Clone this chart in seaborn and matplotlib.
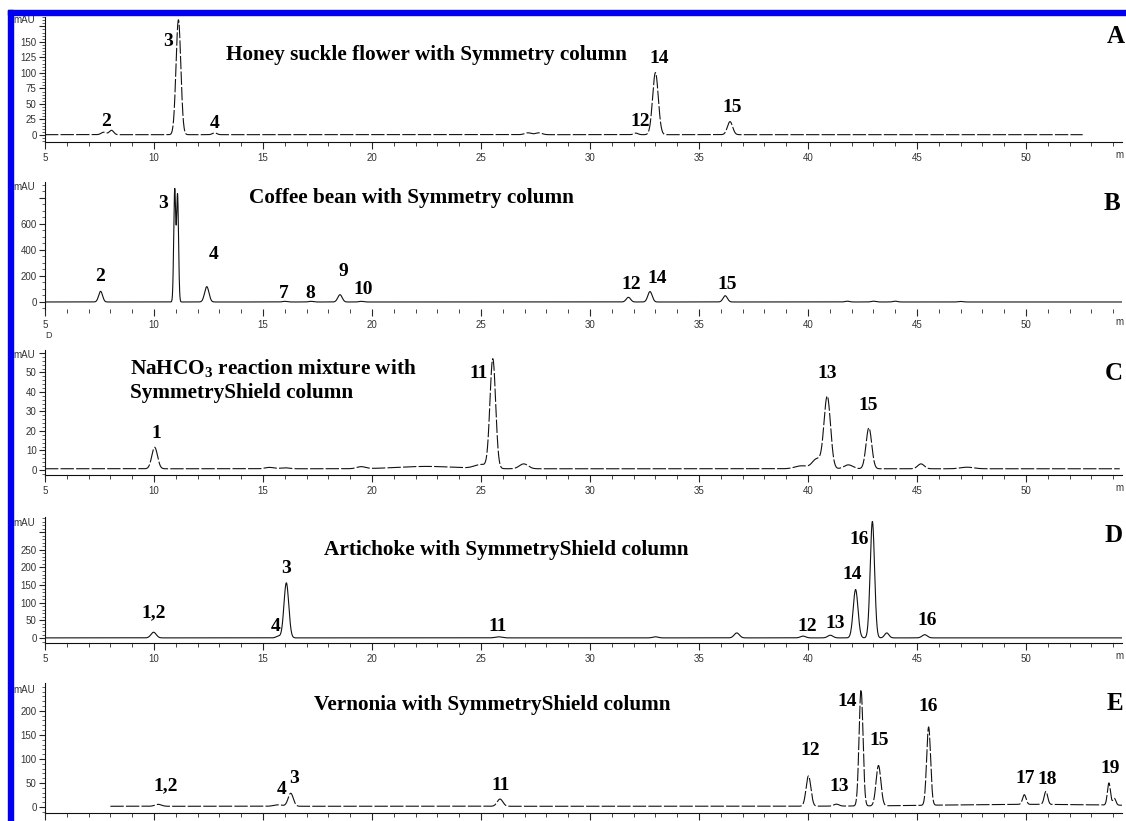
import numpy as np
import pandas as pd
import matplotlib
matplotlib.use("Agg")
import matplotlib.pyplot as plt
import seaborn as sns
from matplotlib.ticker import FixedLocator, MultipleLocator
from matplotlib.patches import Rectangle

# ---------------- peak tables (retention time min, height mAU, sigma min) ----------------
a_rt = [7.7, 8.05, 11.12, 12.78, 27.15, 27.65, 32.1, 33.0, 36.42]
a_h = [4, 7, 185, 3, 3, 3, 2.5, 100, 21]
a_w = [0.12, 0.1, 0.11, 0.1, 0.15, 0.15, 0.1, 0.13, 0.12]
a_base = 0.5

b_rt = [7.55, 10.95, 11.08, 12.42, 16.0, 17.2, 18.53, 19.5, 31.76, 32.75, 36.2, 41.8, 43.0, 44.0, 47.0]
b_h = [82, 860, 820, 118, 5, 5, 56, 5, 36, 80, 48, 6, 6, 6, 4]
b_w = [0.09, 0.045, 0.045, 0.1, 0.1, 0.1, 0.1, 0.1, 0.1, 0.1, 0.1, 0.1, 0.1, 0.1, 0.1]
b_base = 0.0

c_rt = [10.03, 15.3, 16.0, 19.5, 22.5, 25.0, 25.54, 26.96, 39.7, 40.4, 40.88, 41.85, 42.79, 45.18, 47.3]
c_h = [11, 0.7, 0.5, 1.0, 1.2, 2.0, 56, 2.5, 1.5, 5, 37, 2, 21, 2.5, 0.8]
c_w = [0.13, 0.2, 0.2, 0.2, 1.3, 0.3, 0.13, 0.2, 0.3, 0.2, 0.15, 0.2, 0.13, 0.15, 0.3]
c_base = 0.6

d_rt = [9.98, 15.7, 16.07, 25.8, 33.0, 36.73, 39.77, 41.02, 42.18, 42.95, 43.61, 45.35]
d_h = [16, 5, 156, 3, 3, 14, 5, 7.5, 137, 330, 14, 9]
d_w = [0.12, 0.1, 0.11, 0.15, 0.12, 0.12, 0.12, 0.12, 0.11, 0.1, 0.1, 0.12]
d_base = 0.5

e_rt = [10.19, 15.7, 16.27, 25.87, 40.02, 41.3, 42.43, 43.23, 45.53, 49.92, 50.91, 53.8, 54.05, 50.0]
e_h = [4, 3, 27, 15, 63, 4, 242, 84, 163, 20, 27, 46, 14, 4]
e_w = [0.15, 0.2, 0.12, 0.13, 0.11, 0.12, 0.09, 0.11, 0.09, 0.08, 0.08, 0.07, 0.07, 4.0]
e_base = 1.5

# ---------------- peak labels ----------------
a_lab = ["2", "3", "4", "12", "14", "15"]
a_lab_t = [7.8, 10.64, 12.8, 32.3, 33.18, 36.5]
a_lab_y = [21, 150, 18, 21, 123, 45]

b_lab = ["2", "3", "4", "7", "8", "9", "10", "12", "14", "15"]
b_lab_t = [7.52, 10.43, 12.72, 15.96, 17.16, 18.68, 19.6, 31.87, 33.06, 36.27]
b_lab_y = [195, 759, 367, 67, 67, 238, 98, 131, 177, 136]

c_lab = ["1", "11", "13", "15"]
c_lab_t = [10.11, 24.87, 40.86, 42.74]
c_lab_y = [18.8, 49.7, 49.7, 32.9]

d_lab = ["1,2", "4", "3", "11", "12", "13", "14", "16", "16"]
d_lab_t = [9.98, 15.56, 16.05, 25.78, 39.95, 41.25, 42.01, 42.34, 45.48]
d_lab_y = [73, 33, 198, 33, 33, 42, 179, 278, 50]

e_lab = ["1,2", "4", "3", "11", "12", "13", "14", "15", "16", "17", "18", "19"]
e_lab_t = [10.52, 15.86, 16.43, 25.9, 40.12, 41.42, 41.8, 43.28, 45.51, 49.97, 50.95, 53.84]
e_lab_y = [45, 36, 59, 45, 118, 42, 219, 138, 210, 59, 57, 80]

titles = ["Honey suckle flower with Symmetry column",
          "Coffee bean with Symmetry column",
          "NaHCO$_\\mathbf{3}$ reaction mixture with\nSymmetryShield column",
          "Artichoke with SymmetryShield column",
          "Vernonia with SymmetryShield column"]
letters = ["A", "B", "C", "D", "E"]

sns.set_style("white")
plt.rcParams["font.family"] = ["Liberation Sans", "DejaVu Sans"]
plt.rcParams["mathtext.fontset"] = "custom"
plt.rcParams["mathtext.rm"] = "Liberation Serif:bold"
plt.rcParams["mathtext.bf"] = "Liberation Serif:bold"

FW, FH = 1126, 821
fig = plt.figure(figsize=(FW / 100, FH / 100), dpi=100)
fig.patch.set_facecolor("white")


def box(top, bottom, left=45, right=1122):
    return [left / FW, 1 - bottom / FH, (right - left) / FW, (bottom - top) / FH]


def trace(rt, h, w, base, t0, t1):
    t = np.arange(t0, t1, 0.004)
    y = np.full_like(t, base)
    for r, hh, ww in zip(rt, h, w):
        y += hh * np.exp(-0.5 * ((t - r) / ww) ** 2)
    return pd.DataFrame({"t": t, "mAU": y})


SERIF = ["Liberation Serif", "DejaVu Serif"]
XMAX = 54.4

panels = [
    dict(rt=a_rt, h=a_h, w=a_w, base=a_base, span=(5, 52.6), box=(17, 142), ylim=(-11.3, 190),
         yt=list(range(0, 176, 25)), ylab=[str(v) for v in range(0, 151, 25)] + [""], ymin=5,
         mau=185, lab=(a_lab, a_lab_t, a_lab_y), title=(22.48, 128.6, "center"),
         letter=(54.1, 158), ls=(0, (12, 2))),
    dict(rt=b_rt, h=b_h, w=b_w, base=b_base, span=(5, XMAX), box=(182, 309), ylim=(-54, 923),
         yt=[0, 200, 400, 600, 800], ylab=["0", "200", "400", "600", ""], ymin=50,
         mau=885, lab=(b_lab, b_lab_t, b_lab_y), title=(21.8, 800, "center"),
         letter=(53.93, 759), ls="-"),
    dict(rt=c_rt, h=c_h, w=c_w, base=c_base, span=(5, 54.3), box=(350, 475), ylim=(-2.6, 61.5),
         yt=list(range(0, 61, 10)), ylab=[str(v) for v in range(0, 51, 10)] + [""], ymin=2,
         mau=59, lab=(c_lab, c_lab_t, c_lab_y), title=(8.89, 46, "left"),
         letter=(54.01, 49.7), ls=(0, (12, 2))),
    dict(rt=d_rt, h=d_h, w=d_w, base=d_base, span=(5, XMAX), box=(517, 643), ylim=(-14, 343),
         yt=list(range(0, 301, 50)), ylab=[str(v) for v in range(0, 251, 50)] + [""], ymin=10,
         mau=325, lab=(d_lab, d_lab_t, d_lab_y), title=(17.82, 250, "left"),
         letter=(54.01, 292), ls="-"),
    dict(rt=e_rt, h=e_h, w=e_w, base=e_base, span=(8, XMAX), box=(683, 813), ylim=(-12.5, 258),
         yt=list(range(0, 201, 50)), ylab=[str(v) for v in range(0, 201, 50)], ymin=10,
         mau=244, lab=(e_lab, e_lab_t, e_lab_y), title=(17.33, 212, "left"),
         letter=(54.09, 216), ls=(0, (12, 2))),
]

for i, p in enumerate(panels):
    ax = fig.add_axes(box(*p["box"]))
    df = trace(p["rt"], p["h"], p["w"], p["base"], *p["span"])
    sns.lineplot(data=df, x="t", y="mAU", ax=ax, color="#111111", linewidth=0.8,
                 linestyle=p["ls"], errorbar=None, estimator=None)
    ax.set_xlim(5, XMAX)
    ax.set_ylim(*p["ylim"])
    ax.set_xlabel("")
    ax.set_ylabel("")
    for s in ("top", "right"):
        ax.spines[s].set_visible(False)
    for s in ("left", "bottom"):
        ax.spines[s].set_color("#111111")
        ax.spines[s].set_linewidth(0.8)
    if i == 1:
        ax.spines["bottom"].set_visible(False)
    ax.xaxis.set_major_locator(MultipleLocator(5))
    ax.xaxis.set_minor_locator(MultipleLocator(1))
    ax.yaxis.set_major_locator(FixedLocator(p["yt"]))
    ax.set_yticklabels(p["ylab"])
    ax.yaxis.set_minor_locator(MultipleLocator(p["ymin"]))
    last = i == len(panels) - 1
    ax.tick_params(axis="x", which="major", direction="out", length=5, width=0.8,
                   labelsize=7, labelcolor="#333333", pad=3, bottom=True,
                   labelbottom=not last)
    ax.tick_params(axis="x", which="minor", direction="out", length=3, width=0.6, bottom=True)
    ax.tick_params(axis="y", which="major", direction="out", length=4, width=0.8,
                   labelsize=7, labelcolor="#333333", pad=2, left=True)
    ax.tick_params(axis="y", which="minor", direction="out", length=2, width=0.5, left=True)
    ax.set_facecolor("none")

    ax.text(-0.009, p["mau"], "mAU", transform=ax.get_yaxis_transform(),
            ha="right", va="center", fontsize=7, color="#333333")
    if not last:
        ax.annotate("m", xy=(1.0017, 0), xycoords="axes fraction", xytext=(0, -9.5),
                    textcoords="offset points", ha="right", va="center",
                    fontsize=7, color="#333333", annotation_clip=False)

    labs, lt, ly = p["lab"]
    for s, tx, ty in zip(labs, lt, ly):
        ax.text(tx, ty, s, ha="center", va="center", fontsize=14,
                fontweight="bold", family=SERIF, color="black")
    tx, ty, ha = p["title"]
    ax.text(tx, ty, titles[i], ha=ha, va="center", fontsize=15.3, fontweight="bold",
            family=SERIF, color="black", linespacing=1.2)
    lx, lyy = p["letter"]
    ax.text(lx, lyy, letters[i], ha="center", va="center", fontsize=18,
            fontweight="bold", family=SERIF, color="black")

fig.text(48 / FW, 1 - 335 / FH, "D", fontsize=6.5, color="#333333", ha="center", va="center")

# blue frame along the top and left edges
fig.patches.append(Rectangle((8 / FW, 1 - 15 / FH), 1 - 8 / FW, 5 / FH,
                             transform=fig.transFigure, color="#0000EE", zorder=10))
fig.patches.append(Rectangle((8 / FW, 0), 5 / FW, 1 - 10 / FH,
                             transform=fig.transFigure, color="#0000EE", zorder=10))

fig.savefig("out.png", dpi=100)
